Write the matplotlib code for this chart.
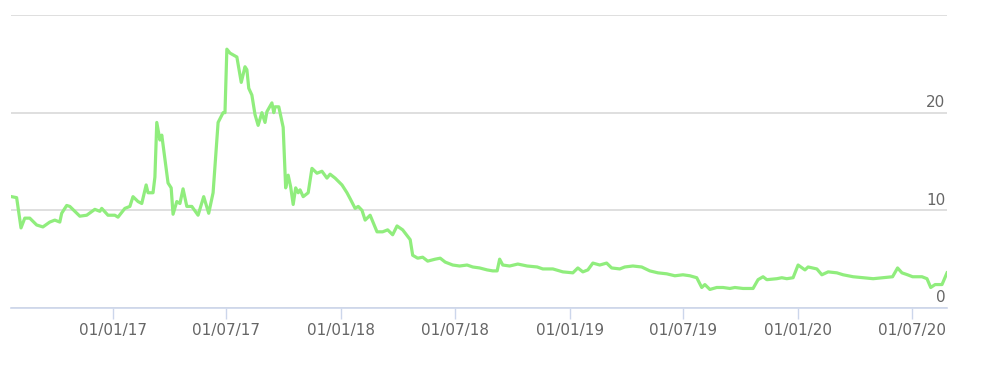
import matplotlib
matplotlib.use("Agg")
import matplotlib.pyplot as plt
import matplotlib.dates as mdates
import numpy as np
import pandas as pd

dates = [
    "2016-07-23", "2016-07-31", "2016-08-07", "2016-08-13", "2016-08-21", "2016-09-01",
    "2016-09-11", "2016-09-22", "2016-09-30", "2016-10-08", "2016-10-11", "2016-10-19",
    "2016-10-24", "2016-11-09", "2016-11-20", "2016-12-03", "2016-12-11", "2016-12-14",
    "2016-12-24", "2017-01-04", "2017-01-09", "2017-01-20", "2017-01-28", "2017-02-02",
    "2017-02-10", "2017-02-16", "2017-02-23", "2017-02-26", "2017-03-06", "2017-03-09",
    "2017-03-12", "2017-03-17", "2017-03-20", "2017-03-28", "2017-03-30", "2017-04-04",
    "2017-04-07", "2017-04-13", "2017-04-18", "2017-04-23", "2017-04-29", "2017-05-07",
    "2017-05-17", "2017-05-26", "2017-06-03", "2017-06-10", "2017-06-18", "2017-06-26",
    "2017-06-29", "2017-07-02", "2017-07-07", "2017-07-18", "2017-07-25", "2017-07-31",
    "2017-08-03", "2017-08-06", "2017-08-11", "2017-08-16", "2017-08-21", "2017-08-27",
    "2017-09-01", "2017-09-04", "2017-09-12", "2017-09-15", "2017-09-17", "2017-09-23",
    "2017-09-30", "2017-10-04", "2017-10-08", "2017-10-12", "2017-10-16", "2017-10-20",
    "2017-10-24", "2017-10-27", "2017-11-01", "2017-11-09", "2017-11-15", "2017-11-23",
    "2017-12-01", "2017-12-09", "2017-12-14", "2017-12-22", "2018-01-02", "2018-01-10",
    "2018-01-15", "2018-01-23", "2018-01-28", "2018-02-03", "2018-02-08", "2018-02-16",
    "2018-02-27", "2018-03-08", "2018-03-16", "2018-03-24", "2018-03-31", "2018-04-09",
    "2018-04-21", "2018-04-25", "2018-05-03", "2018-05-11", "2018-05-19", "2018-05-31",
    "2018-06-08", "2018-06-16", "2018-06-28", "2018-07-09", "2018-07-21", "2018-07-30",
    "2018-08-10", "2018-08-22", "2018-08-31", "2018-09-07", "2018-09-11", "2018-09-16",
    "2018-09-27", "2018-10-10", "2018-10-25", "2018-11-10", "2018-11-19", "2018-12-05",
    "2018-12-21", "2019-01-06", "2019-01-14", "2019-01-22", "2019-01-30", "2019-02-07",
    "2019-02-18", "2019-03-01", "2019-03-09", "2019-03-22", "2019-03-30", "2019-04-12",
    "2019-04-26", "2019-05-09", "2019-05-22", "2019-06-05", "2019-06-18", "2019-07-01",
    "2019-07-12", "2019-07-23", "2019-07-31", "2019-08-05", "2019-08-13", "2019-08-24",
    "2019-09-03", "2019-09-14", "2019-09-22", "2019-10-05", "2019-10-21", "2019-10-29",
    "2019-11-06", "2019-11-12", "2019-11-28", "2019-12-06", "2019-12-14", "2019-12-24",
    "2020-01-01", "2020-01-12", "2020-01-17", "2020-01-31", "2020-02-08", "2020-02-18",
    "2020-03-03", "2020-03-13", "2020-03-29", "2020-04-14", "2020-04-30", "2020-05-16",
    "2020-05-31", "2020-06-08", "2020-06-15", "2020-06-24", "2020-07-02", "2020-07-17",
    "2020-07-25", "2020-07-31", "2020-08-07", "2020-08-18", "2020-08-26",
]

values = [
    11.4, 11.3, 8.2, 9.2, 9.2, 8.5,
    8.3, 8.8, 9.0, 8.8, 9.7, 10.5,
    10.4, 9.4, 9.5, 10.1, 9.9, 10.2,
    9.5, 9.5, 9.3, 10.2, 10.4, 11.4,
    10.9, 10.7, 12.6, 11.8, 11.8, 13.4,
    19.0, 17.2, 17.7, 13.8, 12.8, 12.3,
    9.6, 10.9, 10.7, 12.2, 10.4, 10.4,
    9.5, 11.4, 9.7, 11.8, 19.0, 20.0,
    20.0, 26.5, 26.1, 25.7, 23.1, 24.7,
    24.4, 22.5, 21.8, 19.8, 18.7, 20.0,
    19.0, 20.1, 21.0, 20.0, 20.6, 20.6,
    18.5, 12.3, 13.6, 12.4, 10.6, 12.3,
    11.8, 12.1, 11.4, 11.8, 14.3, 13.8,
    14.0, 13.3, 13.7, 13.3, 12.6, 11.8,
    11.2, 10.2, 10.4, 10.0, 9.0, 9.5,
    7.8, 7.8, 8.0, 7.5, 8.4, 8.0,
    7.0, 5.4, 5.1, 5.2, 4.8, 5.0,
    5.1, 4.7, 4.4, 4.3, 4.4, 4.2,
    4.1, 3.9, 3.8, 3.8, 5.0, 4.4,
    4.3, 4.5, 4.3, 4.2, 4.0, 4.0,
    3.7, 3.6, 4.1, 3.7, 3.9, 4.6,
    4.4, 4.6, 4.1, 4.0, 4.2, 4.3,
    4.2, 3.8, 3.6, 3.5, 3.3, 3.4,
    3.3, 3.1, 2.1, 2.4, 1.9, 2.1,
    2.1, 2.0, 2.1, 2.0, 2.0, 2.9,
    3.2, 2.9, 3.0, 3.1, 3.0, 3.1,
    4.4, 3.9, 4.2, 4.0, 3.4, 3.7,
    3.6, 3.4, 3.2, 3.1, 3.0, 3.1,
    3.2, 4.1, 3.6, 3.4, 3.2, 3.2,
    3.0, 2.1, 2.4, 2.4, 3.6,
]

x_ticks = ["2017-01-01", "2017-07-01", "2018-01-01", "2018-07-01",
           "2019-01-01", "2019-07-01", "2020-01-01", "2020-07-01"]
y_ticks = [0, 10, 20, 30]
y_labels = ["0", "10", "20", ""]

x_start = "2016-07-22"
x_end = "2020-08-26"

W, H = 985, 365
fig = plt.figure(figsize=(W / 100, H / 100), dpi=100)
ax = fig.add_axes([11 / W, 57 / H, (947 - 11) / W, (350 - 57) / H])

d = pd.to_datetime(dates)
ax.plot(d, values, color="#90ed7d", lw=2.3, solid_joinstyle="round", zorder=3)

ax.set_xlim(pd.Timestamp(x_start), pd.Timestamp(x_end))
ax.set_ylim(0, 30)

for s in ["top", "right", "left"]:
    ax.spines[s].set_visible(False)
ax.spines["bottom"].set_color("#ccd6eb")
ax.spines["bottom"].set_linewidth(1.2)

ax.set_yticks(y_ticks)
ax.set_yticklabels([])
ax.tick_params(axis="y", length=0)
ax.grid(axis="y", color="#d9d9d9", lw=1.2, zorder=0)

for v, lab in zip(y_ticks, y_labels):
    if lab:
        ax.annotate(lab, xy=(1, v), xycoords=("axes fraction", "data"),
                    xytext=(-1, 2), textcoords="offset points",
                    ha="right", va="bottom", fontsize=11, color="#666666")

ax.set_xticks(pd.to_datetime(x_ticks))
ax.xaxis.set_major_formatter(mdates.DateFormatter("%d/%m/%y"))
ax.tick_params(axis="x", length=8, width=1, color="#ccd6eb",
               labelsize=11, labelcolor="#666666", pad=3)

fig.savefig("out.png", dpi=100, facecolor="white")
